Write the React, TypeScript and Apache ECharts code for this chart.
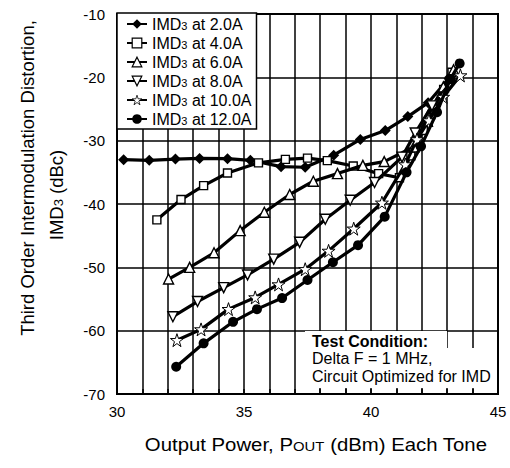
import React, { useEffect, useRef } from "react";
import * as echarts from "echarts";

const FONT = '"Liberation Sans", Arial, Helvetica, sans-serif';

// Legend / series names
const seriesNames = [
  "IMD3 at 2.0A",
  "IMD3 at 4.0A",
  "IMD3 at 6.0A",
  "IMD3 at 8.0A",
  "IMD3 at 10.0A",
  "IMD3 at 12.0A",
];

// x tick labels: 30..45 (dBm), y: -70..-10 (dBc)
const xTicks = [30, 35, 40, 45];
const yTicks = [-70, -60, -50, -40, -30, -20, -10];

// [Pout dBm, IMD3 dBc]
const imd2A: number[][] = [
  [30.26, -33.0], [31.27, -33.1], [32.3, -32.9], [33.25, -32.8], [34.35, -32.85],
  [35.25, -33.1], [36.46, -34.1], [37.41, -34.2], [38.53, -32.3], [39.58, -29.8],
  [40.56, -28.4], [41.45, -26.2], [42.25, -24.0], [43.1, -20.0],
];
const imd4A: number[][] = [
  [31.57, -42.5], [32.52, -39.3], [33.41, -37.1], [34.35, -35.1], [35.57, -33.5],
  [36.63, -32.95], [37.5, -32.75], [38.28, -33.15], [39.3, -34.0], [40.3, -35.2],
  [41.12, -35.85], [41.57, -32.4], [42.06, -28.4], [42.45, -25.0], [42.86, -21.9],
  [43.19, -19.2],
];
const imd6A: number[][] = [
  [32.03, -51.85], [32.86, -50.0], [33.82, -47.7], [34.85, -44.2], [35.8, -41.3],
  [36.8, -38.5], [37.73, -36.4], [38.68, -35.2], [39.68, -33.9], [40.52, -33.3],
  [41.68, -31.0], [42.25, -26.0], [42.85, -21.5], [43.25, -18.8],
];
const imd8A: number[][] = [
  [32.2, -57.8], [33.17, -55.4], [34.2, -53.2], [35.14, -51.2], [36.17, -48.7],
  [37.19, -46.05], [38.2, -42.4], [39.18, -39.4], [40.14, -36.6], [41.22, -32.6],
  [41.74, -28.8], [42.4, -24.5], [43.1, -21.0],
];
const imd10A: number[][] = [
  [32.36, -61.5], [33.31, -59.8], [34.39, -56.6], [35.44, -54.75], [36.36, -52.7],
  [37.41, -50.3], [38.33, -47.4], [39.32, -43.9], [40.43, -39.8], [41.35, -33.75],
  [41.81, -29.8], [42.28, -26.8], [42.84, -23.1], [43.52, -19.7],
];
const imd12A: number[][] = [
  [32.33, -65.7], [33.41, -62.0], [34.57, -58.6], [35.51, -56.6], [36.5, -54.85],
  [37.5, -52.0], [38.5, -49.2], [39.49, -46.5], [40.54, -42.0], [41.4, -35.0],
  [41.97, -30.9], [42.6, -25.5], [43.12, -20.3], [43.49, -17.8],
];

const seriesData = [imd2A, imd4A, imd6A, imd8A, imd10A, imd12A];

const STAR =
  "path://M50,0 L62,36 L100,36 L69,59 L81,96 L50,73 L19,96 L31,59 L0,36 L38,36 Z";
const INV_TRI = "path://M0,0 L100,0 L50,90 Z";

const symbols = ["diamond", "rect", "triangle", INV_TRI, STAR, "circle"];
const symbolSizes = [11, 8, 10, 10, 13, 10];
const filled = [true, false, false, false, false, true];
const borderWidths = [0, 1.4, 1.4, 1.4, 1.0, 0];
const legendBorderWidths = [0, 1.2, 1.2, 1.2, 0.8, 0];

export default function App() {
  const ref = useRef<HTMLDivElement>(null);

  useEffect(() => {
    document.body.style.margin = "0";
    if (!ref.current) return;
    const chart = echarts.init(ref.current, undefined, { renderer: "svg" });

    const series = seriesNames.map((name, i) => ({
      name,
      type: "line",
      data: seriesData[i],
      symbol: symbols[i],
      symbolSize: symbolSizes[i],
      showAllSymbol: true,
      lineStyle: { color: "#000", width: 3.2 },
      itemStyle: {
        color: filled[i] ? "#000" : "#fff",
        borderColor: "#000",
        borderWidth: borderWidths[i],
      },
      emphasis: { disabled: true },
      z: 2 + i,
    }));

    const subRich = (size: number, big: number) => ({
      a: { fontSize: big, fontFamily: FONT, color: "#000", fill: "#000", verticalAlign: "bottom", lineHeight: big },
      s: { fontSize: size, fontFamily: FONT, color: "#000", fill: "#000", verticalAlign: "bottom", padding: [0, 0, 1, 0] },
    });

    const gridLine = { color: "#000", width: 1.5 };

    const option: any = {
      animation: false,
      backgroundColor: "#fff",
      textStyle: { fontFamily: FONT },
      grid: {
        left: 117,
        right: 12,
        top: 14,
        bottom: 74,
        show: true,
        borderColor: "#000",
        borderWidth: 2,
        backgroundColor: "transparent",
      },
      xAxis: {
        type: "value",
        min: xTicks[0],
        max: xTicks[xTicks.length - 1],
        interval: 5,
        axisLine: { show: false },
        axisTick: { show: true, inside: true, length: 5, lineStyle: gridLine },
        minorTick: { show: true, splitNumber: 5, length: 5, lineStyle: gridLine },
        splitLine: { show: true, lineStyle: gridLine },
        minorSplitLine: { show: true, lineStyle: gridLine },
        axisLabel: { color: "#000", fontSize: 15, fontFamily: FONT, margin: 10 },
      },
      yAxis: {
        type: "value",
        min: yTicks[0],
        max: yTicks[yTicks.length - 1],
        interval: 10,
        axisLine: { show: false },
        axisTick: { show: false },
        splitLine: { show: true, lineStyle: gridLine },
        axisLabel: { color: "#000", fontSize: 15, fontFamily: FONT, margin: 12 },
      },
      legend: {
        orient: "vertical",
        left: 117,
        top: 13,
        backgroundColor: "#fff",
        borderColor: "#000",
        borderWidth: 1.5,
        borderRadius: 0,
        padding: [3, 5, 2, 9],
        itemGap: 3,
        itemWidth: 20,
        itemHeight: 12,
        selectedMode: false,
        data: seriesNames.map((name, i) => ({
          name,
          itemStyle: { borderWidth: legendBorderWidths[i], borderColor: "#000" },
        })),
        formatter: (name: string) => name.replace("IMD3", "{a|IMD}{s|3}{a|") + "}",
        textStyle: {
          color: "#000",
          fontFamily: FONT,
          fontSize: 16,
          rich: subRich(11, 16),
        },
        z: 20,
      },
      graphic: [
        { type: "rect", z: 50, silent: true, shape: { x: 305, y: 331, width: 142, height: 17 }, style: { fill: "#fff" } },
        { type: "rect", z: 50, silent: true, shape: { x: 305, y: 348, width: 191, height: 40 }, style: { fill: "#fff" } },
        {
          type: "text", z: 60, x: 312, y: 341,
          style: { text: "Test Condition:", fontSize: 16, fontWeight: "bold", fontFamily: FONT, fill: "#000", align: "left", verticalAlign: "middle" },
        },
        {
          type: "text", z: 60, x: 312, y: 358.5,
          style: { text: "Delta F = 1 MHz,", fontSize: 16, fontFamily: FONT, fill: "#000", align: "left", verticalAlign: "middle" },
        },
        {
          type: "text", z: 60, x: 312, y: 376,
          style: { text: "Circuit Optimized for IMD", fontSize: 16, fontFamily: FONT, fill: "#000", align: "left", verticalAlign: "middle" },
        },
        {
          type: "text", z: 60, x: 316, y: 445, scaleX: 1.1,
          style: {
            text: "{a|Output Power, P}{s|OUT}{a| (dBm) Each Tone}",
            fontSize: 18.5, fontFamily: FONT, fill: "#000", align: "center", verticalAlign: "middle",
            rich: subRich(13.5, 18.5),
          },
        },
        {
          type: "text", z: 60, x: 27, y: 178, rotation: Math.PI / 2,
          style: { text: "Third Order Intermodulation Distortion,", fontSize: 18.5, fontFamily: FONT, fill: "#000", align: "center", verticalAlign: "middle" },
        },
        {
          type: "text", z: 60, x: 57, y: 195, rotation: Math.PI / 2,
          style: {
            text: "{a|IMD}{s|3}{a| (dBc)}",
            fontSize: 18.5, fontFamily: FONT, fill: "#000", align: "center", verticalAlign: "middle",
            rich: subRich(13, 18.5),
          },
        },
      ],
      series,
    };

    chart.setOption(option);
    return () => chart.dispose();
  }, []);

  return <div ref={ref} style={{ width: 510, height: 468 }} />;
}
